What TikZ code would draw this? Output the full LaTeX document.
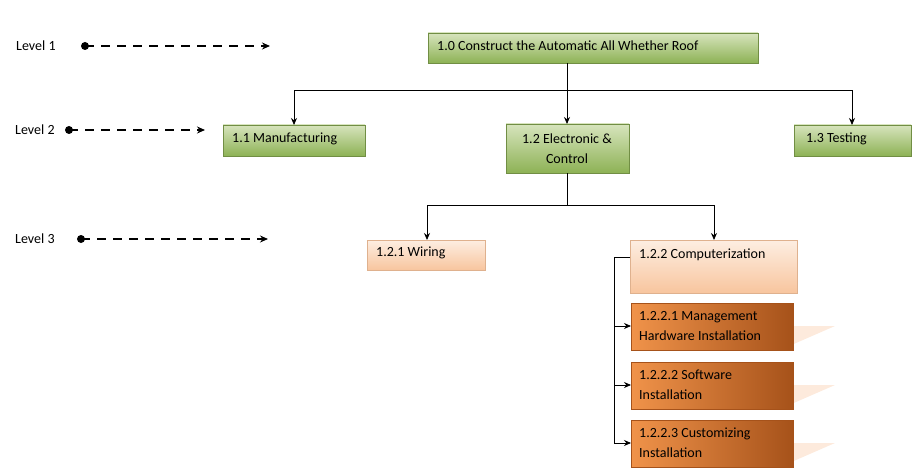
\documentclass[tikz,border=0pt]{standalone}
\usepackage{fontspec}
\setmainfont{Carlito}
\usetikzlibrary{arrows.meta}
\definecolor{gtop}{HTML}{D7E4BD}
\definecolor{gbot}{HTML}{8DB255}
\definecolor{otop}{HTML}{FDEEE2}
\definecolor{obot}{HTML}{F8C59E}
\definecolor{dtop}{HTML}{F0934A}
\definecolor{dbot}{HTML}{A6521A}
\begin{document}
\begin{tikzpicture}[x=1pt,y=-1pt,
  box/.style={draw=none,inner sep=0pt,text=black},
  gbox/.style={box,top color=gtop,bottom color=gbot,draw=gbot!80!black,line width=0.6pt},
  lbox/.style={box,top color=otop,bottom color=obot,draw=obot!90!black,line width=0.6pt},
  dbox/.style={box,left color=dtop,right color=dbot,draw=dbot,line width=0.6pt},
  conn/.style={-{Stealth[length=7pt,width=6pt]},line width=0.8pt},
  lvl/.style={-{Stealth[length=8pt,width=7pt]},line width=2pt,dash pattern=on 9pt off 7pt},
  dot/.style={circle,fill=black,inner sep=0pt,minimum size=8pt},
  lab/.style={font=\fontsize{14}{20}\selectfont,inner sep=0pt}]
\useasboundingbox (0,0) rectangle (918,476);
% boxes
\path[gbox] (428,33) rectangle (758,63); \node[lab,anchor=west] (r) at (437,46) {1.0 Construct the Automatic All Whether Roof};
\coordinate (rB) at (567,63);
\path[gbox] (223,125) rectangle (365,156); \node[lab,anchor=west] (m) at (232,139) {1.1 Manufacturing};
\path[gbox] (506,124) rectangle (629,173); \node[lab,align=center] (e) at (567,149) {1.2 Electronic \&\\Control};
\path[gbox] (794,125) rectangle (911,156); \node[lab,anchor=west] (t) at (806,139) {1.3 Testing};
\path[lbox] (367,240) rectangle (485,270); \node[lab,anchor=west] (w) at (376,253) {1.2.1 Wiring};
\path[lbox] (630,240) rectangle (797,293); \node[lab,anchor=west] (c) at (639,255) {1.2.2 Computerization};
\foreach \y/\n in {303/a,362/b,420/d}{
  \fill[obot!60!white,opacity=0.6] (780,\y+23) -- (835,\y+23) -- (780,\y+47) -- cycle;
  \path[dbox] (631,\y) rectangle (793,\y+47);
}
\node[lab,anchor=west,align=left] (c1) at (639,326) {1.2.2.1 Management\\Hardware Installation};
\node[lab,anchor=west,align=left] (c2) at (639,385) {1.2.2.2 Software\\Installation};
\node[lab,anchor=west,align=left] (c3) at (639,443) {1.2.2.3 Customizing\\Installation};
% connectors
\draw[line width=0.8pt] (rB) -- (567,90);
\draw[conn] (567,90) -| (294,125);
\draw[conn] (567,90) -| (852,125);
\draw[conn] (567,90) -- (567,124);
\draw[line width=0.8pt] (567,173) -- (567,205);
\draw[conn] (567,205) -| (427,240);
\draw[conn] (567,205) -| (714,240);
\draw[line width=0.8pt] (630,257) -- (614,257) -- (614,443);
\foreach \y in {326,385,443} \draw[conn] (614,\y) -- (631,\y);
% levels
\node[lab,anchor=west] (l1) at (16,46) {Level 1};
\node[lab,anchor=west] (l2) at (15,130) {Level 2};
\node[lab,anchor=west] (l3) at (15,239) {Level 3};
\node[dot] (d1) at (85,46) {}; \coordinate (e1) at (270,46);
\node[dot] (d2) at (69,130) {}; \coordinate (e2) at (205,130);
\node[dot] (d3) at (81,239) {}; \coordinate (e3) at (268,239);
\draw[lvl] (d1.center) -- (e1);
\draw[lvl] (d2.center) -- (e2);
\draw[lvl] (d3.center) -- (e3);
\end{tikzpicture}
\end{document}
